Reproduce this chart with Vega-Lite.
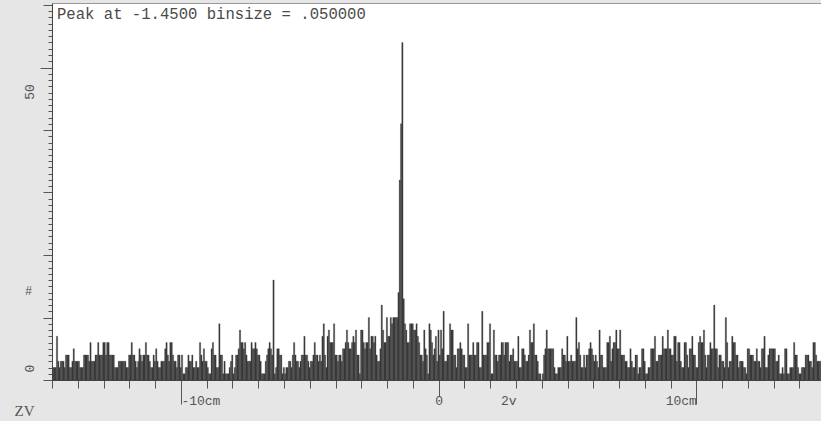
{
"$schema": "https://vega.github.io/schema/vega-lite/v6.json",
"width": 769, "height": 377,
"autosize": {"type": "none"},
"padding": {"left": 52, "top": 3, "right": 0, "bottom": 41},
"background": "#e6e6e6",
"config": {"view": {"fill": "white", "stroke": "#999999", "strokeWidth": 1}},
"title": {"text": "Peak at -1.4500 binsize = .050000", "anchor": "start", "frame": "group", "orient": "top", "offset": -32, "baseline": "alphabetic", "dx": 5, "font": "Liberation Mono", "fontSize": 15.6, "fontWeight": "normal", "color": "#4a4a4a"},
"data": {"values": [
{"x":-15,"n":2},{"x":-14.95,"n":2},{"x":-14.9,"n":2},{"x":-14.85,"n":7},{"x":-14.8,"n":3},{"x":-14.75,"n":2},{"x":-14.7,"n":3},{"x":-14.65,"n":3},{"x":-14.6,"n":3},{"x":-14.55,"n":2},{"x":-14.5,"n":4},{"x":-14.45,"n":4},{"x":-14.4,"n":4},{"x":-14.35,"n":2},{"x":-14.3,"n":2},{"x":-14.25,"n":3},{"x":-14.2,"n":5},{"x":-14.15,"n":3},{"x":-14.1,"n":3},{"x":-14.05,"n":3},
{"x":-14,"n":3},{"x":-13.95,"n":2},{"x":-13.9,"n":2},{"x":-13.85,"n":2},{"x":-13.8,"n":4},{"x":-13.75,"n":4},{"x":-13.7,"n":4},{"x":-13.65,"n":4},{"x":-13.6,"n":3},{"x":-13.55,"n":6},{"x":-13.5,"n":3},{"x":-13.45,"n":3},{"x":-13.4,"n":3},{"x":-13.35,"n":4},{"x":-13.3,"n":4},{"x":-13.25,"n":6},{"x":-13.2,"n":4},{"x":-13.15,"n":4},{"x":-13.1,"n":4},{"x":-13.05,"n":6},
{"x":-13,"n":6},{"x":-12.95,"n":4},{"x":-12.9,"n":6},{"x":-12.85,"n":6},{"x":-12.8,"n":4},{"x":-12.75,"n":4},{"x":-12.7,"n":4},{"x":-12.65,"n":4},{"x":-12.6,"n":2},{"x":-12.55,"n":2},{"x":-12.5,"n":2},{"x":-12.45,"n":3},{"x":-12.4,"n":3},{"x":-12.35,"n":3},{"x":-12.3,"n":3},{"x":-12.25,"n":3},{"x":-12.2,"n":3},{"x":-12.15,"n":2},{"x":-12.1,"n":2},{"x":-12.05,"n":4},
{"x":-12,"n":4},{"x":-11.95,"n":6},{"x":-11.9,"n":4},{"x":-11.85,"n":4},{"x":-11.8,"n":3},{"x":-11.75,"n":2},{"x":-11.7,"n":3},{"x":-11.65,"n":5},{"x":-11.6,"n":4},{"x":-11.55,"n":3},{"x":-11.5,"n":4},{"x":-11.45,"n":4},{"x":-11.4,"n":6},{"x":-11.35,"n":4},{"x":-11.3,"n":4},{"x":-11.25,"n":3},{"x":-11.2,"n":2},{"x":-11.15,"n":2},{"x":-11.1,"n":4},{"x":-11.05,"n":3},
{"x":-11,"n":5},{"x":-10.95,"n":3},{"x":-10.9,"n":2},{"x":-10.85,"n":2},{"x":-10.8,"n":3},{"x":-10.75,"n":3},{"x":-10.7,"n":3},{"x":-10.65,"n":5},{"x":-10.6,"n":6},{"x":-10.55,"n":4},{"x":-10.5,"n":3},{"x":-10.45,"n":6},{"x":-10.4,"n":6},{"x":-10.35,"n":4},{"x":-10.3,"n":3},{"x":-10.25,"n":3},{"x":-10.2,"n":2},{"x":-10.15,"n":4},{"x":-10.1,"n":4},{"x":-10.05,"n":2},
{"x":-10,"n":4},{"x":-9.95,"n":1},{"x":-9.9,"n":1},{"x":-9.85,"n":2},{"x":-9.8,"n":2},{"x":-9.75,"n":4},{"x":-9.7,"n":3},{"x":-9.65,"n":3},{"x":-9.6,"n":4},{"x":-9.55,"n":2},{"x":-9.5,"n":2},{"x":-9.45,"n":3},{"x":-9.4,"n":2},{"x":-9.35,"n":2},{"x":-9.3,"n":6},{"x":-9.25,"n":4},{"x":-9.2,"n":3},{"x":-9.15,"n":5},{"x":-9.1,"n":3},{"x":-9.05,"n":3},
{"x":-9,"n":2},{"x":-8.95,"n":1},{"x":-8.9,"n":1},{"x":-8.85,"n":5},{"x":-8.8,"n":6},{"x":-8.75,"n":4},{"x":-8.7,"n":4},{"x":-8.65,"n":2},{"x":-8.6,"n":2},{"x":-8.55,"n":9},{"x":-8.5,"n":4},{"x":-8.45,"n":4},{"x":-8.4,"n":1},{"x":-8.35,"n":3},{"x":-8.3,"n":1},{"x":-8.25,"n":1},{"x":-8.2,"n":1},{"x":-8.15,"n":2},{"x":-8.1,"n":3},{"x":-8.05,"n":4},
{"x":-8,"n":1},{"x":-7.95,"n":2},{"x":-7.9,"n":4},{"x":-7.85,"n":4},{"x":-7.8,"n":5},{"x":-7.75,"n":8},{"x":-7.7,"n":6},{"x":-7.65,"n":6},{"x":-7.6,"n":5},{"x":-7.55,"n":6},{"x":-7.5,"n":4},{"x":-7.45,"n":3},{"x":-7.4,"n":3},{"x":-7.35,"n":3},{"x":-7.3,"n":6},{"x":-7.25,"n":5},{"x":-7.2,"n":5},{"x":-7.15,"n":6},{"x":-7.1,"n":5},{"x":-7.05,"n":4},
{"x":-7,"n":4},{"x":-6.95,"n":3},{"x":-6.9,"n":1},{"x":-6.85,"n":1},{"x":-6.8,"n":1},{"x":-6.75,"n":3},{"x":-6.7,"n":4},{"x":-6.65,"n":5},{"x":-6.6,"n":6},{"x":-6.55,"n":5},{"x":-6.5,"n":4},{"x":-6.45,"n":16},{"x":-6.4,"n":1},{"x":-6.35,"n":2},{"x":-6.3,"n":5},{"x":-6.25,"n":5},{"x":-6.2,"n":4},{"x":-6.15,"n":4},{"x":-6.1,"n":1},{"x":-6.05,"n":2},
{"x":-6,"n":1},{"x":-5.95,"n":2},{"x":-5.9,"n":2},{"x":-5.85,"n":3},{"x":-5.8,"n":3},{"x":-5.75,"n":2},{"x":-5.7,"n":4},{"x":-5.65,"n":6},{"x":-5.6,"n":4},{"x":-5.55,"n":3},{"x":-5.5,"n":3},{"x":-5.45,"n":2},{"x":-5.4,"n":3},{"x":-5.35,"n":4},{"x":-5.3,"n":4},{"x":-5.25,"n":7},{"x":-5.2,"n":4},{"x":-5.15,"n":4},{"x":-5.1,"n":3},{"x":-5.05,"n":2},
{"x":-5,"n":3},{"x":-4.95,"n":3},{"x":-4.9,"n":4},{"x":-4.85,"n":6},{"x":-4.8,"n":4},{"x":-4.75,"n":4},{"x":-4.7,"n":3},{"x":-4.65,"n":4},{"x":-4.6,"n":3},{"x":-4.55,"n":7},{"x":-4.5,"n":9},{"x":-4.45,"n":4},{"x":-4.4,"n":2},{"x":-4.35,"n":7},{"x":-4.3,"n":8},{"x":-4.25,"n":6},{"x":-4.2,"n":6},{"x":-4.15,"n":6},{"x":-4.1,"n":9},{"x":-4.05,"n":4},
{"x":-4,"n":4},{"x":-3.95,"n":3},{"x":-3.9,"n":4},{"x":-3.85,"n":4},{"x":-3.8,"n":3},{"x":-3.75,"n":5},{"x":-3.7,"n":5},{"x":-3.65,"n":6},{"x":-3.6,"n":8},{"x":-3.55,"n":6},{"x":-3.5,"n":5},{"x":-3.45,"n":5},{"x":-3.4,"n":6},{"x":-3.35,"n":7},{"x":-3.3,"n":6},{"x":-3.25,"n":8},{"x":-3.2,"n":4},{"x":-3.15,"n":4},{"x":-3.1,"n":1},{"x":-3.05,"n":8},
{"x":-3,"n":8},{"x":-2.95,"n":6},{"x":-2.9,"n":5},{"x":-2.85,"n":6},{"x":-2.8,"n":6},{"x":-2.75,"n":10},{"x":-2.7,"n":5},{"x":-2.65,"n":7},{"x":-2.6,"n":7},{"x":-2.55,"n":6},{"x":-2.5,"n":7},{"x":-2.45,"n":4},{"x":-2.4,"n":3},{"x":-2.35,"n":3},{"x":-2.3,"n":5},{"x":-2.25,"n":12},{"x":-2.2,"n":8},{"x":-2.15,"n":6},{"x":-2.1,"n":6},{"x":-2.05,"n":10},
{"x":-2,"n":7},{"x":-1.95,"n":7},{"x":-1.9,"n":10},{"x":-1.85,"n":9},{"x":-1.8,"n":10},{"x":-1.75,"n":10},{"x":-1.7,"n":10},{"x":-1.65,"n":10},{"x":-1.6,"n":14},{"x":-1.55,"n":32},{"x":-1.5,"n":41},{"x":-1.45,"n":54},{"x":-1.4,"n":13},{"x":-1.35,"n":9},{"x":-1.3,"n":8},{"x":-1.25,"n":6},{"x":-1.2,"n":6},{"x":-1.15,"n":9},{"x":-1.1,"n":9},{"x":-1.05,"n":9},
{"x":-1,"n":8},{"x":-0.95,"n":8},{"x":-0.9,"n":9},{"x":-0.85,"n":7},{"x":-0.8,"n":6},{"x":-0.75,"n":4},{"x":-0.7,"n":4},{"x":-0.65,"n":3},{"x":-0.6,"n":8},{"x":-0.55,"n":5},{"x":-0.5,"n":4},{"x":-0.45,"n":1},{"x":-0.4,"n":9},{"x":-0.35,"n":8},{"x":-0.3,"n":6},{"x":-0.25,"n":4},{"x":-0.2,"n":5},{"x":-0.15,"n":7},{"x":-0.1,"n":3},{"x":-0.05,"n":8},
{"x":0,"n":4},{"x":0.05,"n":8},{"x":0.1,"n":5},{"x":0.15,"n":11},{"x":0.2,"n":3},{"x":0.25,"n":3},{"x":0.3,"n":4},{"x":0.35,"n":4},{"x":0.4,"n":9},{"x":0.45,"n":8},{"x":0.5,"n":8},{"x":0.55,"n":4},{"x":0.6,"n":4},{"x":0.65,"n":2},{"x":0.7,"n":5},{"x":0.75,"n":5},{"x":0.8,"n":6},{"x":0.85,"n":5},{"x":0.9,"n":4},{"x":0.95,"n":4},
{"x":1,"n":2},{"x":1.05,"n":2},{"x":1.1,"n":9},{"x":1.15,"n":4},{"x":1.2,"n":4},{"x":1.25,"n":4},{"x":1.3,"n":6},{"x":1.35,"n":4},{"x":1.4,"n":4},{"x":1.45,"n":6},{"x":1.5,"n":6},{"x":1.55,"n":2},{"x":1.6,"n":2},{"x":1.65,"n":11},{"x":1.7,"n":4},{"x":1.75,"n":4},{"x":1.8,"n":4},{"x":1.85,"n":6},{"x":1.9,"n":6},{"x":1.95,"n":9},
{"x":2,"n":1},{"x":2.05,"n":1},{"x":2.1,"n":8},{"x":2.15,"n":4},{"x":2.2,"n":4},{"x":2.25,"n":3},{"x":2.3,"n":4},{"x":2.35,"n":4},{"x":2.4,"n":6},{"x":2.45,"n":6},{"x":2.5,"n":4},{"x":2.55,"n":6},{"x":2.6,"n":6},{"x":2.65,"n":6},{"x":2.7,"n":3},{"x":2.75,"n":4},{"x":2.8,"n":4},{"x":2.85,"n":5},{"x":2.9,"n":3},{"x":2.95,"n":3},
{"x":3,"n":3},{"x":3.05,"n":7},{"x":3.1,"n":2},{"x":3.15,"n":2},{"x":3.2,"n":5},{"x":3.25,"n":5},{"x":3.3,"n":4},{"x":3.35,"n":3},{"x":3.4,"n":3},{"x":3.45,"n":4},{"x":3.5,"n":8},{"x":3.55,"n":6},{"x":3.6,"n":6},{"x":3.65,"n":9},{"x":3.7,"n":4},{"x":3.75,"n":4},{"x":3.8,"n":3},{"x":3.85,"n":1},{"x":3.9,"n":1},{"x":3.95,"n":0},
{"x":4,"n":1},{"x":4.05,"n":4},{"x":4.1,"n":5},{"x":4.15,"n":8},{"x":4.2,"n":5},{"x":4.25,"n":5},{"x":4.3,"n":5},{"x":4.35,"n":5},{"x":4.4,"n":5},{"x":4.45,"n":2},{"x":4.5,"n":1},{"x":4.55,"n":1},{"x":4.6,"n":2},{"x":4.65,"n":2},{"x":4.7,"n":2},{"x":4.75,"n":5},{"x":4.8,"n":4},{"x":4.85,"n":4},{"x":4.9,"n":3},{"x":4.95,"n":7},
{"x":5,"n":3},{"x":5.05,"n":3},{"x":5.1,"n":4},{"x":5.15,"n":3},{"x":5.2,"n":3},{"x":5.25,"n":3},{"x":5.3,"n":10},{"x":5.35,"n":5},{"x":5.4,"n":6},{"x":5.45,"n":4},{"x":5.5,"n":2},{"x":5.55,"n":2},{"x":5.6,"n":4},{"x":5.65,"n":2},{"x":5.7,"n":4},{"x":5.75,"n":4},{"x":5.8,"n":5},{"x":5.85,"n":6},{"x":5.9,"n":5},{"x":5.95,"n":4},
{"x":6,"n":3},{"x":6.05,"n":4},{"x":6.1,"n":3},{"x":6.15,"n":2},{"x":6.2,"n":8},{"x":6.25,"n":4},{"x":6.3,"n":4},{"x":6.35,"n":2},{"x":6.4,"n":2},{"x":6.45,"n":2},{"x":6.5,"n":6},{"x":6.55,"n":6},{"x":6.6,"n":7},{"x":6.65,"n":3},{"x":6.7,"n":5},{"x":6.75,"n":6},{"x":6.8,"n":6},{"x":6.85,"n":8},{"x":6.9,"n":5},{"x":6.95,"n":5},
{"x":7,"n":8},{"x":7.05,"n":4},{"x":7.1,"n":4},{"x":7.15,"n":4},{"x":7.2,"n":3},{"x":7.25,"n":3},{"x":7.3,"n":2},{"x":7.35,"n":2},{"x":7.4,"n":5},{"x":7.45,"n":3},{"x":7.5,"n":2},{"x":7.55,"n":2},{"x":7.6,"n":4},{"x":7.65,"n":4},{"x":7.7,"n":1},{"x":7.75,"n":2},{"x":7.8,"n":2},{"x":7.85,"n":5},{"x":7.9,"n":5},{"x":7.95,"n":3},
{"x":8,"n":1},{"x":8.05,"n":1},{"x":8.1,"n":2},{"x":8.15,"n":2},{"x":8.2,"n":5},{"x":8.25,"n":5},{"x":8.3,"n":5},{"x":8.35,"n":7},{"x":8.4,"n":3},{"x":8.45,"n":3},{"x":8.5,"n":4},{"x":8.55,"n":4},{"x":8.6,"n":4},{"x":8.65,"n":7},{"x":8.7,"n":5},{"x":8.75,"n":5},{"x":8.8,"n":5},{"x":8.85,"n":8},{"x":8.9,"n":5},{"x":8.95,"n":5},
{"x":9,"n":4},{"x":9.05,"n":4},{"x":9.1,"n":7},{"x":9.15,"n":7},{"x":9.2,"n":3},{"x":9.25,"n":6},{"x":9.3,"n":6},{"x":9.35,"n":3},{"x":9.4,"n":2},{"x":9.45,"n":2},{"x":9.5,"n":6},{"x":9.55,"n":6},{"x":9.6,"n":4},{"x":9.65,"n":2},{"x":9.7,"n":5},{"x":9.75,"n":5},{"x":9.8,"n":7},{"x":9.85,"n":4},{"x":9.9,"n":4},{"x":9.95,"n":2},
{"x":10,"n":2},{"x":10.05,"n":6},{"x":10.1,"n":7},{"x":10.15,"n":6},{"x":10.2,"n":6},{"x":10.25,"n":8},{"x":10.3,"n":4},{"x":10.35,"n":2},{"x":10.4,"n":4},{"x":10.45,"n":4},{"x":10.5,"n":6},{"x":10.55,"n":5},{"x":10.6,"n":5},{"x":10.65,"n":12},{"x":10.7,"n":5},{"x":10.75,"n":5},{"x":10.8,"n":2},{"x":10.85,"n":4},{"x":10.9,"n":4},{"x":10.95,"n":3},
{"x":11,"n":3},{"x":11.05,"n":2},{"x":11.1,"n":10},{"x":11.15,"n":6},{"x":11.2,"n":2},{"x":11.25,"n":3},{"x":11.3,"n":3},{"x":11.35,"n":7},{"x":11.4,"n":6},{"x":11.45,"n":6},{"x":11.5,"n":4},{"x":11.55,"n":4},{"x":11.6,"n":2},{"x":11.65,"n":3},{"x":11.7,"n":3},{"x":11.75,"n":3},{"x":11.8,"n":2},{"x":11.85,"n":2},{"x":11.9,"n":1},{"x":11.95,"n":5},
{"x":12,"n":5},{"x":12.05,"n":4},{"x":12.1,"n":4},{"x":12.15,"n":4},{"x":12.2,"n":3},{"x":12.25,"n":3},{"x":12.3,"n":5},{"x":12.35,"n":3},{"x":12.4,"n":3},{"x":12.45,"n":2},{"x":12.5,"n":5},{"x":12.55,"n":5},{"x":12.6,"n":7},{"x":12.65,"n":2},{"x":12.7,"n":2},{"x":12.75,"n":4},{"x":12.8,"n":5},{"x":12.85,"n":5},{"x":12.9,"n":5},{"x":12.95,"n":5},
{"x":13,"n":5},{"x":13.05,"n":3},{"x":13.1,"n":3},{"x":13.15,"n":4},{"x":13.2,"n":1},{"x":13.25,"n":1},{"x":13.3,"n":2},{"x":13.35,"n":1},{"x":13.4,"n":5},{"x":13.45,"n":5},{"x":13.5,"n":1},{"x":13.55,"n":1},{"x":13.6,"n":2},{"x":13.65,"n":2},{"x":13.7,"n":2},{"x":13.75,"n":6},{"x":13.8,"n":4},{"x":13.85,"n":4},{"x":13.9,"n":2},{"x":13.95,"n":1},
{"x":14,"n":1},{"x":14.05,"n":2},{"x":14.1,"n":2},{"x":14.15,"n":2},{"x":14.2,"n":4},{"x":14.25,"n":4},{"x":14.3,"n":4},{"x":14.35,"n":3},{"x":14.4,"n":3},{"x":14.45,"n":2},{"x":14.5,"n":6},{"x":14.55,"n":6},{"x":14.6,"n":4},{"x":14.65,"n":3},{"x":14.7,"n":3},{"x":14.75,"n":3},{"x":14.8,"n":3},{"x":14.85,"n":3},{"x":14.9,"n":2},{"x":14.95,"n":2}
]},
"mark": {"type": "bar", "color": "#3a3a3a", "stroke": "#3a3a3a", "strokeWidth": 0.3, "binSpacing": 0, "clip": true},
"encoding": {
"x": {"field": "x", "type": "quantitative", "bin": {"binned": true, "step": 0.05},
"scale": {"domain": [-15, 14.835], "nice": false, "zero": false},
"axis": {"title": "ZV", "titleX": -28, "titleY": 30, "titleAlign": "center", "titleBaseline": "middle", "titleFont": "Liberation Serif", "titleFontSize": 15, "titleFontWeight": "normal", "titleColor": "#555555",
"values": [-15,-14,-13,-12,-11,-10,-9,-8,-7,-6,-5,-4,-3,-2,-1,0,1,2,3,4,5,6,7,8,9,10,11,12,13,14,2.7],
"labelExpr": "datum.value == -10 ? '-10cm' : datum.value == 0 ? '0' : datum.value == 10 ? '10cm' : (datum.value > 2.6 && datum.value < 2.8) ? '2v' : ''",
"labelAlign": {"condition": [{"test": "datum.value == -10", "value": "left"}, {"test": "datum.value == 10", "value": "right"}], "value": "center"},
"labelPadding": {"condition": [{"test": "datum.value == -10 || datum.value == 10", "value": -4}, {"test": "datum.value == 0", "value": 4}, {"test": "datum.value > 2.6 && datum.value < 2.8", "value": 20}], "value": 12},
"labelFont": "Liberation Mono", "labelFontSize": 13, "labelColor": "#555555", "labelBaseline": "middle", "labelFlush": false, "labelOverlap": false,
"tickSize": {"condition": [{"test": "datum.value == -10 || datum.value == 10", "value": 24}, {"test": "datum.value == 0", "value": 16}, {"test": "datum.value > 2.6 && datum.value < 2.8", "value": 0}], "value": 8},
"tickColor": "#555555", "domainColor": "#444444", "grid": false}},
"y": {"field": "n", "type": "quantitative",
"scale": {"domain": [0, 60.32], "nice": false},
"axis": {"title": "#", "titleX": -24, "titleY": 287, "titleAngle": 0, "titleAlign": "center", "titleBaseline": "middle", "titleFont": "Liberation Mono", "titleFontSize": 12, "titleFontWeight": "normal", "titleColor": "#555555",
"values": [0,1,2,3,4,5,6,7,8,9,10,11,12,13,14,15,16,17,18,19,20,21,22,23,24,25,26,27,28,29,30,31,32,33,34,35,36,37,38,39,40,41,42,43,44,45,46,47,48,49,50,51,52,53,54,55,56,57,58,59,60],
"labelExpr": "datum.value == 0 || datum.value == 50 ? datum.label : ''",
"labelAngle": -90, "labelAlign": "center", "labelBaseline": "middle", "labelFont": "Liberation Mono", "labelFontSize": 13, "labelColor": "#555555", "labelFlush": false, "labelOverlap": false,
"labelOffset": {"condition": [{"test": "datum.value == 0", "value": -12}, {"test": "datum.value == 50", "value": 24}], "value": 0},
"labelPadding": {"condition": [{"test": "datum.value == 50", "value": 11}, {"test": "datum.value == 0", "value": 14}], "value": 12},
"tickSize": {"condition": [{"test": "datum.value == 50", "value": 12}, {"test": "datum.value % 10 == 0", "value": 9}], "value": 4},
"tickColor": "#555555", "domainColor": "#444444", "grid": false}}
}
}
